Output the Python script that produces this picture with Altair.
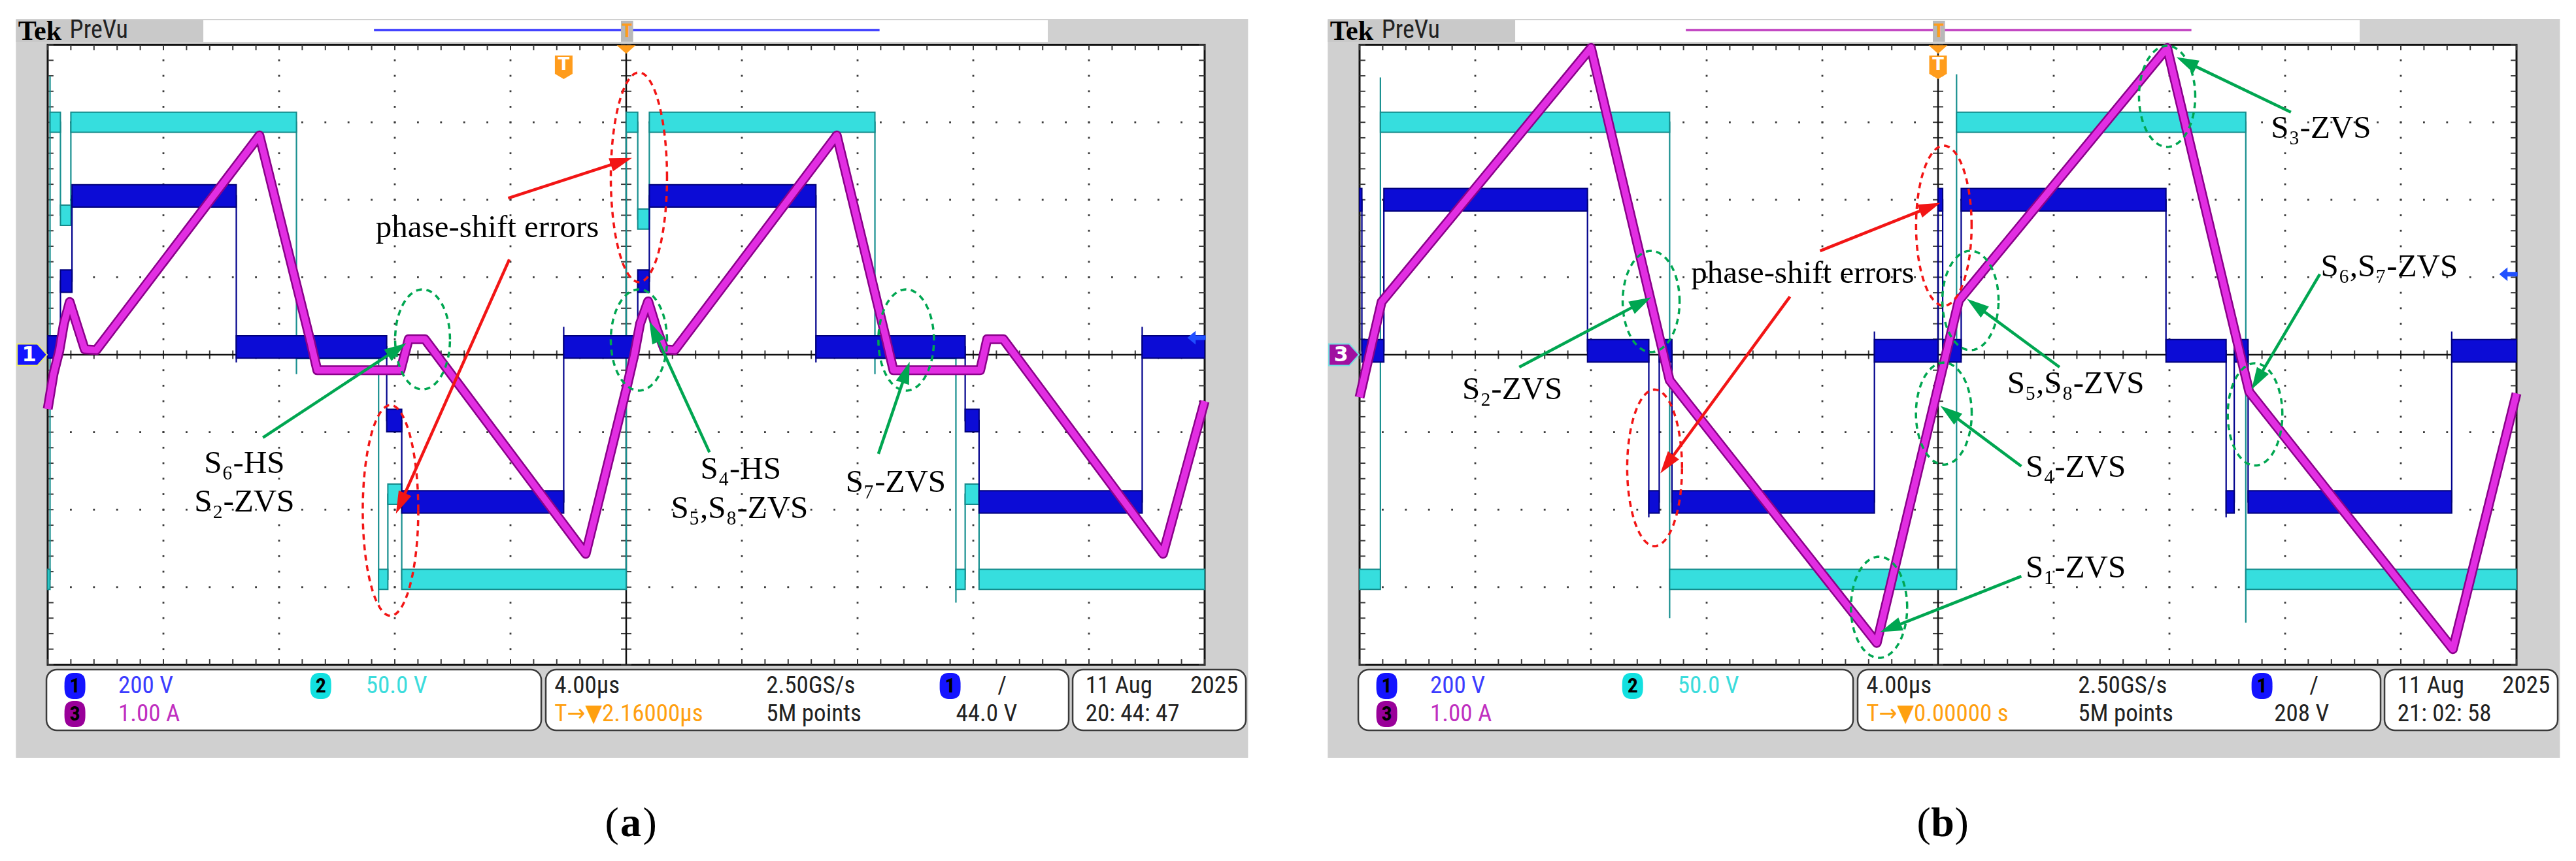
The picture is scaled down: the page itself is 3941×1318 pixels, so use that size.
import math
import altair as alt
import pandas as pd

# ---------------- geometry of the screen (divisions) ----------------
PX_X = 177.0          # px per horizontal division
PX_Y = 118.6          # px per vertical division
XDOM_A = [-0.3672, 10.7062]
XDOM_B = [-0.6328, 10.4689]
YDOM = [-6.4503, 4.5110]
W_A, W_B, H = 1960, 1965, 1300

# ---------------- traces: (time [div], level [div]) ----------------
A_CYAN = [(0, -2.9), (0.02, -2.9), (0.02, 3.6), (0.02, 3.0), (0.11, 3.0), (0.11, 1.8), (0.2, 1.8),
          (0.2, 3.0), (2.15, 3.0), (2.15, -0.25), (2.15, 0.08), (2.86, 0.08), (2.86, -3.2), (2.86, -2.9),
          (2.94, -2.9), (2.94, -1.8), (3.06, -1.8), (3.06, -2.9), (5.0, -2.9), (5.0, 3.0), (5.1, 3.0),
          (5.1, 1.75), (5.2, 1.75), (5.2, 3.0), (7.15, 3.0), (7.15, -0.25), (7.15, 0.08), (7.85, 0.08),
          (7.85, -3.2), (7.85, -2.9), (7.93, -2.9), (7.93, -1.8), (8.05, -1.8), (8.05, -2.9), (10, -2.9)]
A_BLUE = [(0, 0.1), (0.11, 0.1), (0.11, 0.95), (0.21, 0.95), (0.21, 2.05), (1.63, 2.05), (1.63, -0.1),
          (1.63, 0.1), (2.93, 0.1), (2.93, -0.85), (3.06, -0.85), (3.06, -1.9), (4.46, -1.9), (4.46, 0.36),
          (4.46, 0.1), (5.1, 0.1), (5.1, 0.95), (5.2, 0.95), (5.2, 2.05), (6.64, 2.05), (6.64, -0.1),
          (6.64, 0.1), (7.93, 0.1), (7.93, -0.85), (8.05, -0.85), (8.05, -1.9), (9.46, -1.9), (9.46, 0.36),
          (9.46, 0.1), (10, 0.1)]
A_MAG = [(0, -0.7), (0.05, -0.25), (0.1, 0.05), (0.14, 0.4), (0.19, 0.68), (0.26, 0.35), (0.32, 0.07),
         (0.42, 0.06), (1.83, 2.83), (2.27, 0.18), (2.33, -0.2), (3.05, -0.2), (3.12, 0.2), (3.26, 0.2),
         (4.65, -2.57), (5.0, -0.45), (5.07, 0.0), (5.12, 0.4), (5.19, 0.69), (5.26, 0.35), (5.33, 0.07),
         (5.42, 0.06), (6.82, 2.83), (7.25, 0.18), (7.31, -0.2), (8.06, -0.2), (8.12, 0.2), (8.26, 0.2),
         (9.64, -2.57), (10, -0.6)]

B_CYAN = [(0, -2.9), (0.18, -2.9), (0.18, 3.58), (0.18, 3.0), (2.68, 3.0), (2.68, -3.4), (2.68, -2.9),
          (5.16, -2.9), (5.16, 3.62), (5.16, 3.0), (7.66, 3.0), (7.66, -3.46), (7.66, -2.9), (10, -2.9)]
B_BLUE = [(0, 2.0), (0.02, 2.0), (0.02, 0.05), (0.21, 0.05), (0.21, 2.0), (1.97, 2.0), (1.97, 0.05),
          (2.5, 0.05), (2.5, -2.1), (2.5, -1.9), (2.59, -1.9), (2.59, 0.05), (2.7, 0.05), (2.7, -1.9),
          (4.45, -1.9), (4.45, 0.3), (4.45, 0.05), (5.0, 0.05), (5.0, 2.0), (5.04, 2.0), (5.04, 0.05),
          (5.2, 0.05), (5.2, 2.0), (6.97, 2.0), (6.97, 0.05), (7.49, 0.05), (7.49, -2.1), (7.49, -1.9),
          (7.56, -1.9), (7.56, 0.05), (7.68, 0.05), (7.68, -1.9), (9.44, -1.9), (9.44, 0.3), (9.44, 0.05),
          (10, 0.05)]
B_MAG = [(0, -0.55), (0.19, 0.68), (2.0, 3.96), (2.68, -0.33), (4.47, -3.72), (5.18, 0.7), (6.98, 3.96),
         (7.69, -0.48), (9.45, -3.8), (10, -0.5)]

# ---------------- annotations ----------------
RED, GREEN = "#f21515", "#00a651"
A_TEXT = [("phase-shift errors", 3.80, 1.64), ("S₆-HS", 1.70, -1.40), ("S₂-ZVS", 1.70, -1.90),
          ("S₄-HS", 5.99, -1.475), ("S₅,S₈-ZVS", 5.98, -1.98), ("S₇-ZVS", 7.33, -1.64)]
A_ARROWS = [(3.98, 2.02, 5.05, 2.54, RED), (3.99, 1.23, 3.01, -2.05, RED),
            (1.86, -1.07, 3.10, 0.15, GREEN), (5.72, -1.26, 5.20, 0.43, GREEN),
            (7.18, -1.28, 7.45, -0.09, GREEN)]
A_ELLIPSES = [(5.11, 2.29, 0.243, 1.353, RED), (2.963, -2.01, 0.24, 1.36, RED),
              (3.24, 0.198, 0.237, 0.645, GREEN), (5.11, 0.19, 0.243, 0.653, GREEN),
              (7.42, 0.19, 0.24, 0.653, GREEN)]

B_TEXT = [("phase-shift errors", 3.83, 1.05), ("S₃-ZVS", 8.31, 2.93), ("S₆,S₇-ZVS", 8.90, 1.14),
          ("S₂-ZVS", 1.32, -0.45), ("S₅,S₈-ZVS", 6.19, -0.37), ("S₄-ZVS", 6.19, -1.45),
          ("S₁-ZVS", 6.19, -2.75)]
B_ARROWS = [(3.98, 1.34, 5.02, 1.96, RED), (3.72, 0.75, 2.60, -1.53, RED),
            (1.38, -0.16, 2.52, 0.74, GREEN), (8.05, 3.13, 7.06, 3.84, GREEN),
            (8.30, 1.04, 7.71, -0.45, GREEN), (6.05, -0.16, 5.25, 0.72, GREEN),
            (5.72, -1.44, 5.02, -0.66, GREEN), (5.72, -2.86, 4.50, -3.58, GREEN)]
B_ELLIPSES = [(5.05, 1.665, 0.24, 1.033, RED), (2.55, -1.46, 0.237, 1.01, RED),
              (2.52, 0.687, 0.246, 0.653, GREEN), (5.28, 0.70, 0.243, 0.641, GREEN),
              (5.05, -0.76, 0.241, 0.658, GREEN), (6.98, 3.335, 0.243, 0.653, GREEN),
              (7.74, -0.77, 0.236, 0.66, GREEN), (4.49, -3.26, 0.243, 0.653, GREEN)]

# ---------------- status bar ----------------
A_STATUS = {"trig": "T→▼2.16000µs", "lvl": "44.0 V", "clock": "20: 44: 47", "tpos": 4.46,
            "tlevel": 0.22, "label": "a", "hdr": "#3a3aff", "ch": "1", "chc": "#1414ff", "chs": "#e8e870"}
B_STATUS = {"trig": "T→▼0.00000 s", "lvl": "208 V", "clock": "21: 02: 58", "tpos": 5.0,
            "tlevel": 1.04, "label": "b", "hdr": "#c040c0", "ch": "3", "chc": "#a010a0", "chs": "#70e0e0"}

SCOPE_FONT = "Liberation Sans Narrow, Roboto Condensed, DejaVu Sans Condensed, Liberation Sans, sans-serif"
SERIF = "Liberation Serif, Times New Roman, DejaVu Serif, serif"


def path_df(pts):
    return pd.DataFrame({"x": [p[0] for p in pts], "y": [p[1] for p in pts], "i": list(range(len(pts)))})


def band_df(pts, half):
    rows = []
    for (x0, y0), (x1, y1) in zip(pts[:-1], pts[1:]):
        if y0 == y1 and x1 - x0 > 0.015:
            rows.append({"x": x0, "x2": x1, "y": y0 - half, "y2": y0 + half})
    return pd.DataFrame(rows)


def ellipse_df(ells):
    rows = []
    for k, (cx, cy, rx, ry, c) in enumerate(ells):
        for j in range(97):
            t = 2 * math.pi * j / 96
            rows.append({"id": k, "i": j, "x": cx + rx * math.cos(t), "y": cy + ry * math.sin(t), "c": c})
    return pd.DataFrame(rows)


HEAD = 34.0


def arrow_dfs(arrs):
    lines, heads = [], []
    for k, (x0, y0, x1, y1, c) in enumerate(arrs):
        dxp = (x1 - x0) * PX_X
        dyp = -(y1 - y0) * PX_Y
        L = math.hypot(dxp, dyp)
        ux, uy = dxp / L, dyp / L
        back = HEAD * 0.7
        xe = x1 - ux * back / PX_X
        ye = y1 + uy * back / PX_Y
        ang = math.degrees(math.atan2(dxp, -dyp)) % 360
        lines += [{"id": k, "i": 0, "x": x0, "y": y0, "c": c}, {"id": k, "i": 1, "x": xe, "y": ye, "c": c}]
        heads.append({"x": x1, "y": y1, "ang": ang, "c": c})
    return pd.DataFrame(lines), pd.DataFrame(heads)


def build_panel(cyan, blue, mag, texts, arrows, ellipses, st, xdom, width):
    XS = alt.Scale(domain=xdom, nice=False, zero=False)
    YS = alt.Scale(domain=YDOM, nice=False, zero=False)

    def X(f="x"):
        return alt.X(f"{f}:Q", scale=XS, axis=None)

    def Y(f="y"):
        return alt.Y(f"{f}:Q", scale=YS, axis=None)

    def rect_layer(df, **mk):
        return alt.Chart(df).mark_rect(**mk).encode(x=X("x"), x2=alt.X2("x2:Q"), y=Y("y"), y2=alt.Y2("y2:Q"))

    def text_layer(df, **mk):
        return alt.Chart(df).mark_text(**mk).encode(x=X(), y=Y(), text="t:N")

    layers = []
    # frame / header / graticule
    layers.append(rect_layer(pd.DataFrame([{"x": -0.275, "x2": 10.375, "y": -5.202, "y2": 4.334}]),
                             color="#d0d0d0"))
    layers.append(rect_layer(pd.DataFrame([{"x": -0.275, "x2": 1.345, "y": 4.039, "y2": 4.317}]),
                             color="#c9c9c9"))
    layers.append(rect_layer(pd.DataFrame([{"x": 1.345, "x2": 8.644, "y": 4.039, "y2": 4.317}]),
                             color="white"))
    layers.append(rect_layer(pd.DataFrame([{"x": 0, "x2": 10, "y": -4, "y2": 4}]),
                             fill="white", stroke="#111111", strokeWidth=3))
    # dotted graticule
    dots = []
    for gx in [1, 2, 3, 4, 6, 7, 8, 9]:
        for k in range(1, 40):
            dots.append({"x": gx, "y": -4 + 0.2 * k})
    for gy in [-3, -2, -1, 1, 2, 3]:
        for k in range(1, 50):
            dots.append({"x": 0.2 * k, "y": gy})
    layers.append(alt.Chart(pd.DataFrame(dots)).mark_square(size=8, color="#3a3a3a", opacity=1)
                  .encode(x=X(), y=Y()))
    ticks = []
    for k in range(51):
        tx = 0.2 * k
        ticks += [{"x": tx, "x2": tx, "y": 4.0, "y2": 3.93}, {"x": tx, "x2": tx, "y": -4.0, "y2": -3.93},
                  {"x": tx, "x2": tx, "y": -0.055, "y2": 0.055}]
    for k in range(41):
        ty = -4 + 0.2 * k
        ticks += [{"x": 0, "x2": 0.05, "y": ty, "y2": ty}, {"x": 10, "x2": 9.95, "y": ty, "y2": ty},
                  {"x": 4.955, "x2": 5.045, "y": ty, "y2": ty}]
    layers.append(alt.Chart(pd.DataFrame(ticks)).mark_rule(color="#3a3a3a", strokeWidth=2)
                  .encode(x=X("x"), x2=alt.X2("x2:Q"), y=Y("y"), y2=alt.Y2("y2:Q")))
    centre = pd.DataFrame([{"x": 0, "x2": 10, "y": 0, "y2": 0}, {"x": 5, "x2": 5, "y": -4, "y2": 4}])
    layers.append(alt.Chart(centre).mark_rule(color="#111111", strokeWidth=2.5)
                  .encode(x=X("x"), x2=alt.X2("x2:Q"), y=Y("y"), y2=alt.Y2("y2:Q")))

    # traces
    layers.append(alt.Chart(path_df(cyan)).mark_line(color="#178f8f", strokeWidth=2.2)
                  .encode(x=X(), y=Y(), order="i:Q"))
    layers.append(rect_layer(band_df(cyan, 0.13), fill="#36dede", stroke="#148a8a", strokeWidth=2))
    layers.append(alt.Chart(path_df(blue)).mark_line(color="#00008c", strokeWidth=2.2)
                  .encode(x=X(), y=Y(), order="i:Q"))
    layers.append(rect_layer(band_df(blue, 0.145), fill="#0c0cd6", stroke="#00007a", strokeWidth=2))
    layers.append(alt.Chart(path_df(mag)).mark_line(color="#8a008a", strokeWidth=15, strokeJoin="round")
                  .encode(x=X(), y=Y(), order="i:Q"))
    layers.append(alt.Chart(path_df(mag)).mark_line(color="#e22ee2", strokeWidth=10, strokeJoin="round")
                  .encode(x=X(), y=Y(), order="i:Q"))

    # header trigger line and icons
    layers.append(alt.Chart(pd.DataFrame([{"x": 2.82, "x2": 7.19, "y": 4.19, "y2": 4.19}]))
                  .mark_rule(color=st["hdr"], strokeWidth=3.5)
                  .encode(x=X("x"), x2=alt.X2("x2:Q"), y=Y("y"), y2=alt.Y2("y2:Q")))
    layers.append(rect_layer(pd.DataFrame([{"x": 4.955, "x2": 5.06, "y": 4.04, "y2": 4.31}]),
                             color="#b8b8b8"))
    layers.append(text_layer(pd.DataFrame([{"x": 5.007, "y": 4.175, "t": "T"}]), color="#ff9c1c",
                             fontSize=30, fontWeight="bold", font=SCOPE_FONT, baseline="middle"))
    layers.append(alt.Chart(pd.DataFrame([{"x": 5.0, "y": 3.94}]))
                  .mark_point(shape="M-1,-0.45L1,-0.45L0,0.45Z", size=841, filled=True, color="#ff9c1c",
                              opacity=1).encode(x=X(), y=Y()))
    layers.append(alt.Chart(pd.DataFrame([{"x": st["tpos"], "y": 3.71}]))
                  .mark_point(shape="M-0.75,-1L0.75,-1L0.75,0.55L0,1L-0.75,0.55Z", size=1296, filled=True,
                              color="#ff9c1c", opacity=1).encode(x=X(), y=Y()))
    layers.append(text_layer(pd.DataFrame([{"x": st["tpos"], "y": 3.74, "t": "T"}]), color="white",
                             fontSize=26, fontWeight="bold", font="DejaVu Sans", baseline="middle"))
    # channel marker (left) and trigger level arrow (right)
    layers.append(alt.Chart(pd.DataFrame([{"x": -0.135, "y": 0.0}]))
                  .mark_point(shape="M-1,-0.72L0.35,-0.72L1,0L0.35,0.72L-1,0.72Z", size=2116, filled=True,
                              color=st["chc"], stroke=st["chs"], strokeWidth=2, opacity=1)
                  .encode(x=X(), y=Y()))
    layers.append(text_layer(pd.DataFrame([{"x": -0.16, "y": 0.0, "t": st["ch"]}]), color="white",
                             fontSize=32, fontWeight="bold", font="DejaVu Sans", baseline="middle"))
    layers.append(alt.Chart(pd.DataFrame([{"x": 9.93, "y": st["tlevel"]}]))
                  .mark_point(shape="M-1,0L-0.1,-0.75L-0.1,-0.25L1,-0.25L1,0.25L-0.1,0.25L-0.1,0.75Z",
                              size=784, filled=True, color="#2050ff", opacity=1).encode(x=X(), y=Y()))

    # status bar
    boxes = pd.DataFrame([{"x": -0.011, "x2": 4.266, "y": -4.848, "y2": -4.064},
                          {"x": 4.305, "x2": 8.825, "y": -4.848, "y2": -4.064},
                          {"x": 8.859, "x2": 10.356, "y": -4.848, "y2": -4.064}])
    layers.append(rect_layer(boxes, fill="white", stroke="#3a3a3a", strokeWidth=2.5, cornerRadius=16))
    R1, R2 = -4.275, -4.637
    circles = pd.DataFrame([{"x": 0.235, "y": R1, "c": "#1414ff", "t": "1"},
                            {"x": 2.36, "y": R1, "c": "#12e0e0", "t": "2"},
                            {"x": 0.235, "y": R2, "c": "#990099", "t": "3"},
                            {"x": 7.80, "y": R1, "c": "#1414ff", "t": "1"}])
    layers.append(alt.Chart(circles).mark_point(shape="M0,-1C0.75,-1 0.8,-0.6 0.8,0C0.8,0.6 0.75,1 0,1"
                                                       "C-0.75,1 -0.8,0.6 -0.8,0C-0.8,-0.6 -0.75,-1 0,-1Z",
                                                 size=1600, filled=True, opacity=1)
                  .encode(x=X(), y=Y(), color=alt.Color("c:N", scale=None)))
    layers.append(text_layer(circles, color="black", fontSize=32, fontWeight="bold", font=SCOPE_FONT,
                             baseline="middle"))
    left_items = pd.DataFrame([
        {"x": 0.61, "y": R1, "t": "200 V", "c": "#3c3cff"},
        {"x": 2.75, "y": R1, "t": "50.0 V", "c": "#3cdcdc"},
        {"x": 0.61, "y": R2, "t": "1.00 A", "c": "#c030c0"},
        {"x": 4.38, "y": R1, "t": "4.00µs", "c": "#222222"},
        {"x": 6.21, "y": R1, "t": "2.50GS/s", "c": "#222222"},
        {"x": 8.21, "y": R1, "t": "/", "c": "#222222"},
        {"x": 4.38, "y": R2, "t": st["trig"], "c": "#ffa010"},
        {"x": 6.21, "y": R2, "t": "5M points", "c": "#222222"},
        {"x": 8.97, "y": R1, "t": "11 Aug", "c": "#222222"},
        {"x": 8.97, "y": R2, "t": st["clock"], "c": "#222222"},
    ])
    layers.append(alt.Chart(left_items).mark_text(align="left", baseline="middle", fontSize=37,
                                                  font=SCOPE_FONT)
                  .encode(x=X(), y=Y(), text="t:N", color=alt.Color("c:N", scale=None)))
    right_items = pd.DataFrame([{"x": 8.38, "y": R2, "t": st["lvl"]}, {"x": 10.29, "y": R1, "t": "2025"}])
    layers.append(text_layer(right_items, align="right", baseline="middle", fontSize=37, font=SCOPE_FONT,
                             color="#222222"))

    # header text
    layers.append(text_layer(pd.DataFrame([{"x": -0.255, "y": 4.17, "t": "Tek"}]), align="left",
                             baseline="middle", fontSize=42, fontWeight="bold", font=SERIF, color="black"))
    layers.append(text_layer(pd.DataFrame([{"x": 0.19, "y": 4.18, "t": "PreVu"}]), align="left",
                             baseline="middle", fontSize=38, font=SCOPE_FONT, color="#222222"))

    # annotations
    layers.append(alt.Chart(ellipse_df(ellipses)).mark_line(strokeWidth=3.5, strokeDash=[9, 7])
                  .encode(x=X(), y=Y(), order="i:Q", detail="id:N", color=alt.Color("c:N", scale=None)))
    adf, hdf = arrow_dfs(arrows)
    layers.append(alt.Chart(adf).mark_line(strokeWidth=4.5)
                  .encode(x=X(), y=Y(), order="i:Q", detail="id:N", color=alt.Color("c:N", scale=None)))
    layers.append(alt.Chart(hdf).mark_point(shape="M0,0L-0.62,2L0.62,2Z", size=HEAD * HEAD, filled=True,
                                            opacity=1)
                  .encode(x=X(), y=Y(), angle=alt.Angle("ang:Q", scale=None),
                          color=alt.Color("c:N", scale=None)))
    tdf = pd.DataFrame([{"t": t, "x": x, "y": y} for (t, x, y) in texts])
    layers.append(text_layer(tdf, align="center", baseline="middle", fontSize=49, font=SERIF, color="black"))

    # panel label (a)/(b)
    lab = pd.DataFrame([{"x": 5.04, "y": -6.05, "t": "("}, {"x": 5.04, "y": -6.05, "t": ")"}])
    layers.append(text_layer(lab.iloc[[0]], align="center", baseline="middle", fontSize=64, font=SERIF,
                             color="black", dx=-29))
    layers.append(text_layer(lab.iloc[[1]], align="center", baseline="middle", fontSize=64, font=SERIF,
                             color="black", dx=29))
    layers.append(text_layer(pd.DataFrame([{"x": 5.04, "y": -6.05, "t": st["label"]}]), align="center",
                             baseline="middle", fontSize=64, font=SERIF, fontWeight="bold", color="black"))

    return alt.layer(*layers).properties(width=width, height=H)


panel_a = build_panel(A_CYAN, A_BLUE, A_MAG, A_TEXT, A_ARROWS, A_ELLIPSES, A_STATUS, XDOM_A, W_A)
panel_b = build_panel(B_CYAN, B_BLUE, B_MAG, B_TEXT, B_ARROWS, B_ELLIPSES, B_STATUS, XDOM_B, W_B)

chart = (alt.hconcat(panel_a, panel_b, spacing=0)
         .properties(padding=0, background="white")
         .configure_view(stroke=None))

chart.save("out.html", embed_options={"renderer": "svg", "actions": False})
